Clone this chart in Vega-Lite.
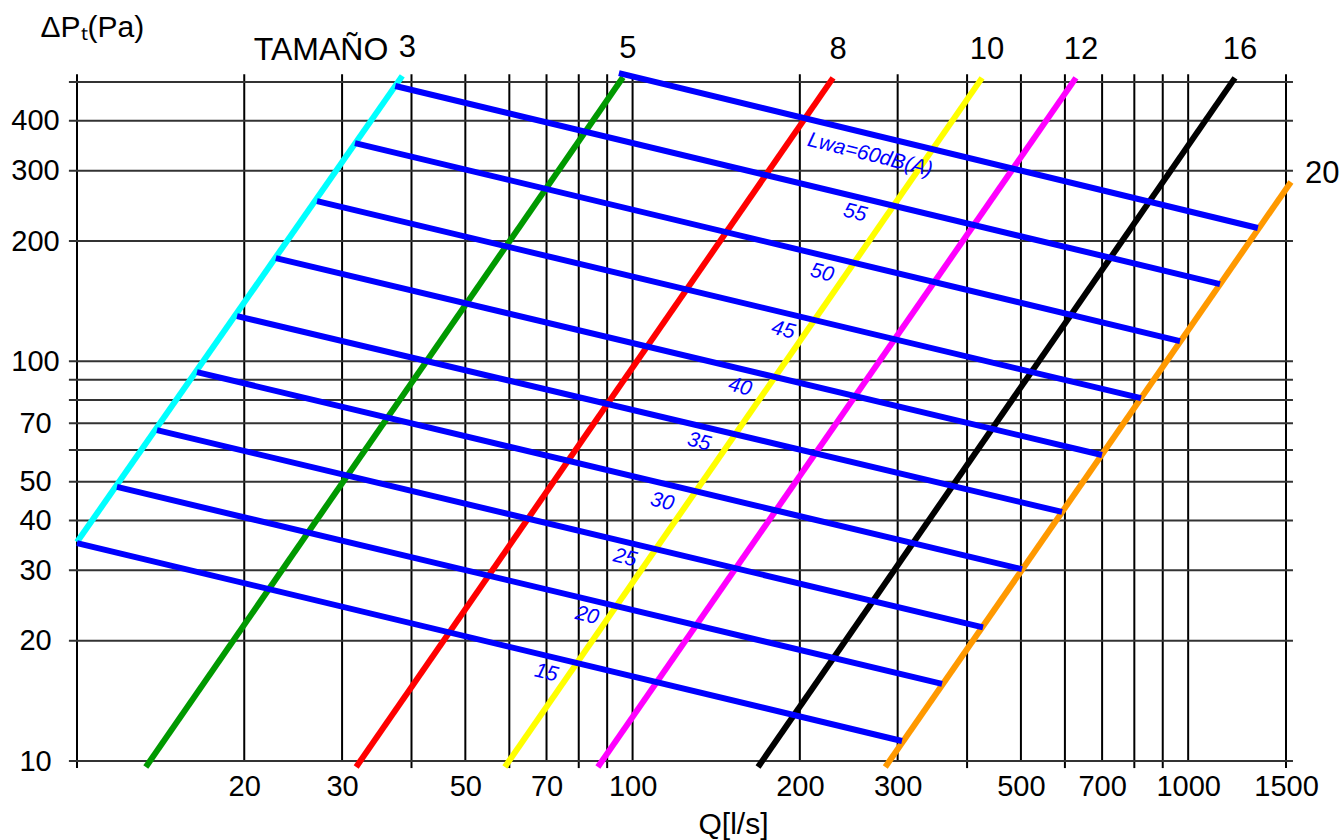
{
  "$schema": "https://vega.github.io/schema/vega-lite/v6.json",
  "width": 1209,
  "height": 679,
  "autosize": "none",
  "padding": {"left": 77, "top": 82, "right": 55, "bottom": 79},
  "background": "white",
  "config": {
    "view": {"stroke": null},
    "axis": {"labelFont": "Liberation Sans", "titleFont": "Liberation Sans", "labelColor": "black", "titleColor": "black"},
    "text": {"font": "Liberation Sans"}
  },
  "datasets": {
    "xgrid": [{"Q": 10}, {"Q": 20}, {"Q": 30}, {"Q": 40}, {"Q": 50}, {"Q": 60}, {"Q": 70}, {"Q": 80}, {"Q": 90}, {"Q": 100}, {"Q": 200}, {"Q": 300}, {"Q": 400}, {"Q": 500}, {"Q": 600}, {"Q": 700}, {"Q": 800}, {"Q": 900}, {"Q": 1000}, {"Q": 1500}],
    "ygrid": [{"P": 10}, {"P": 20}, {"P": 30}, {"P": 40}, {"P": 50}, {"P": 60}, {"P": 70}, {"P": 80}, {"P": 90}, {"P": 100}, {"P": 200}, {"P": 300}, {"P": 400}, {"P": 500}],
    "sizes": [
      {"size": "3", "Q": 10, "P": 35.3}, {"size": "3", "Q": 38.5, "P": 518},
      {"size": "5", "Q": 13.3, "P": 9.66}, {"size": "5", "Q": 96.1, "P": 514},
      {"size": "8", "Q": 31.8, "P": 9.66}, {"size": "8", "Q": 229.5, "P": 512},
      {"size": "10", "Q": 58.9, "P": 9.66}, {"size": "10", "Q": 425.6, "P": 512},
      {"size": "12", "Q": 86.6, "P": 9.66}, {"size": "12", "Q": 628, "P": 512},
      {"size": "16", "Q": 168.2, "P": 9.66}, {"size": "16", "Q": 1214, "P": 512},
      {"size": "20", "Q": 285, "P": 9.66}, {"size": "20", "Q": 1531, "P": 281}
    ],
    "lwa": [
      {"Lwa": 60, "Q": 94.5, "P": 526}, {"Lwa": 60, "Q": 1335, "P": 215.6},
      {"Lwa": 55, "Q": 37.4, "P": 488.6}, {"Lwa": 55, "Q": 1141, "P": 156.1},
      {"Lwa": 50, "Q": 31.65, "P": 351.7}, {"Lwa": 50, "Q": 966.7, "P": 112.4},
      {"Lwa": 45, "Q": 27.04, "P": 251.8}, {"Lwa": 45, "Q": 822.4, "P": 80.9},
      {"Lwa": 40, "Q": 22.8, "P": 181.3}, {"Lwa": 40, "Q": 699.6, "P": 58.3},
      {"Lwa": 35, "Q": 19.41, "P": 129.8}, {"Lwa": 35, "Q": 592.8, "P": 42.0},
      {"Lwa": 30, "Q": 16.44, "P": 94.0}, {"Lwa": 30, "Q": 502.2, "P": 30.2},
      {"Lwa": 25, "Q": 13.93, "P": 67.3}, {"Lwa": 25, "Q": 427.3, "P": 21.6},
      {"Lwa": 20, "Q": 11.8, "P": 48.5}, {"Lwa": 20, "Q": 360.6, "P": 15.6},
      {"Lwa": 15, "Q": 10, "P": 35.1}, {"Lwa": 15, "Q": 305.4, "P": 11.22}
    ],
    "lwaLabels": [
      {"Lwa": 60, "Q": 267.5, "P": 328.2, "label": "Lwa=60dB(A)"},
      {"Lwa": 55, "Q": 251.3, "P": 235.0, "label": "55"},
      {"Lwa": 50, "Q": 219.3, "P": 166.3, "label": "50"},
      {"Lwa": 45, "Q": 186.6, "P": 119.7, "label": "45"},
      {"Lwa": 40, "Q": 156.1, "P": 86.2, "label": "40"},
      {"Lwa": 35, "Q": 131.7, "P": 62.8, "label": "35"},
      {"Lwa": 30, "Q": 113.0, "P": 44.5, "label": "30"},
      {"Lwa": 25, "Q": 96.9, "P": 32.2, "label": "25"},
      {"Lwa": 20, "Q": 82.8, "P": 23.1, "label": "20"},
      {"Lwa": 15, "Q": 69.9, "P": 16.6, "label": "15"}
    ]
  },
  "layer": [
    {
      "data": {"name": "xgrid"},
      "mark": {"type": "rule", "color": "black", "strokeWidth": 2},
      "encoding": {
        "x": {"field": "Q", "type": "quantitative",
          "scale": {"type": "log", "domain": [10, 1500], "nice": false, "zero": false},
          "axis": {"orient": "bottom", "values": [20, 30, 50, 70, 100, 200, 300, 500, 700, 1000, 1500], "format": "d",
            "grid": false, "ticks": false, "domain": false, "labelFontSize": 29, "labelPadding": 34, "labelBaseline": "alphabetic",
            "labelFlush": false, "labelOverlap": false,
            "title": "Q[l/s]", "titleFontSize": 30, "titleFontWeight": "normal", "titleX": 656, "titleY": 72, "titleAlign": "center", "titleBaseline": "alphabetic"}},
        "y": {"datum": 10, "type": "quantitative",
          "scale": {"type": "log", "domain": [10, 500], "nice": false, "zero": false},
          "axis": {"orient": "left", "values": [10, 20, 30, 40, 50, 70, 100, 200, 300, 400], "format": "d",
            "grid": false, "ticks": false, "domain": false, "labelFontSize": 29, "labelPadding": 42, "labelAlign": "center", "labelBaseline": "middle",
            "labelFlush": false, "labelOverlap": false,
            "title": "ΔPₜ(Pa)", "titleFontSize": 30, "titleFontWeight": "normal", "titleAngle": 0, "titleX": -37, "titleY": -46, "titleAlign": "left", "titleBaseline": "alphabetic"}},
        "y2": {"datum": 523}
      }
    },
    {
      "data": {"name": "xgrid"},
      "transform": [{"filter": {"field": "Q", "oneOf": [10, 40, 60, 80, 90, 400, 600, 800, 900, 1500]}}],
      "mark": {"type": "rule", "color": "black", "strokeWidth": 2},
      "encoding": {
        "x": {"field": "Q", "type": "quantitative", "scale": {"type": "log", "domain": [10, 1500], "nice": false, "zero": false}},
        "y": {"datum": 9.6, "type": "quantitative", "scale": {"type": "log", "domain": [10, 500], "nice": false, "zero": false}},
        "y2": {"datum": 10}
      }
    },
    {
      "data": {"name": "ygrid"},
      "mark": {"type": "rule", "color": "#333333", "strokeWidth": 2},
      "encoding": {
        "y": {"field": "P", "type": "quantitative", "scale": {"type": "log", "domain": [10, 500], "nice": false, "zero": false}},
        "x": {"datum": 9.67, "type": "quantitative", "scale": {"type": "log", "domain": [10, 1500], "nice": false, "zero": false}},
        "x2": {"datum": 1544}
      }
    },
    {
      "data": {"name": "sizes"},
      "mark": {"type": "line", "strokeWidth": 6, "strokeCap": "butt"},
      "encoding": {
        "x": {"field": "Q", "type": "quantitative", "scale": {"type": "log", "domain": [10, 1500], "nice": false, "zero": false}},
        "y": {"field": "P", "type": "quantitative", "scale": {"type": "log", "domain": [10, 500], "nice": false, "zero": false}},
        "color": {"field": "size", "type": "nominal", "legend": null,
          "scale": {"domain": ["3", "5", "8", "10", "12", "16", "20"], "range": ["#00ffff", "#009900", "#ff0000", "#ffff00", "#ff00ff", "#000000", "#ff9900"]}}
      }
    },
    {
      "data": {"name": "lwa"},
      "mark": {"type": "line", "strokeWidth": 6, "strokeCap": "butt", "color": "#0000ff"},
      "encoding": {
        "x": {"field": "Q", "type": "quantitative", "scale": {"type": "log", "domain": [10, 1500], "nice": false, "zero": false}},
        "y": {"field": "P", "type": "quantitative", "scale": {"type": "log", "domain": [10, 500], "nice": false, "zero": false}},
        "detail": {"field": "Lwa", "type": "nominal"}
      }
    },
    {
      "data": {"name": "lwaLabels"},
      "mark": {"type": "text", "color": "#0000ff", "fontSize": 21, "fontStyle": "italic", "angle": 14, "align": "center", "baseline": "middle"},
      "encoding": {
        "x": {"field": "Q", "type": "quantitative", "scale": {"type": "log", "domain": [10, 1500], "nice": false, "zero": false}},
        "y": {"field": "P", "type": "quantitative", "scale": {"type": "log", "domain": [10, 500], "nice": false, "zero": false}},
        "text": {"field": "label", "type": "nominal"}
      }
    },
    {
      "data": {"name": "sizes"},
      "transform": [{"filter": {"field": "P", "gt": 100}}, {"filter": {"not": {"field": "size", "equal": "20"}}}],
      "mark": {"type": "text", "color": "black", "fontSize": 31, "align": "center", "baseline": "alphabetic", "dx": 5, "dy": -19},
      "encoding": {
        "x": {"field": "Q", "type": "quantitative", "scale": {"type": "log", "domain": [10, 1500], "nice": false, "zero": false}},
        "y": {"field": "P", "type": "quantitative", "scale": {"type": "log", "domain": [10, 500], "nice": false, "zero": false}},
        "text": {"field": "size", "type": "nominal"}
      }
    },
    {
      "data": {"name": "sizes"},
      "transform": [{"filter": {"field": "P", "gt": 100}}, {"filter": {"field": "size", "equal": "20"}}],
      "mark": {"type": "text", "color": "black", "fontSize": 31, "align": "left", "baseline": "alphabetic", "dx": 14, "dy": 1},
      "encoding": {
        "x": {"field": "Q", "type": "quantitative", "scale": {"type": "log", "domain": [10, 1500], "nice": false, "zero": false}},
        "y": {"field": "P", "type": "quantitative", "scale": {"type": "log", "domain": [10, 500], "nice": false, "zero": false}},
        "text": {"field": "size", "type": "nominal"}
      }
    },
    {
      "data": {"name": "sizes"},
      "transform": [{"filter": {"field": "P", "gt": 100}}, {"filter": {"field": "size", "equal": "3"}}],
      "mark": {"type": "text", "color": "black", "fontSize": 32, "align": "right", "baseline": "alphabetic", "dx": -14, "dy": -16},
      "encoding": {
        "x": {"field": "Q", "type": "quantitative", "scale": {"type": "log", "domain": [10, 1500], "nice": false, "zero": false}},
        "y": {"field": "P", "type": "quantitative", "scale": {"type": "log", "domain": [10, 500], "nice": false, "zero": false}},
        "text": {"value": "TAMAÑO"}
      }
    }
  ]
}
